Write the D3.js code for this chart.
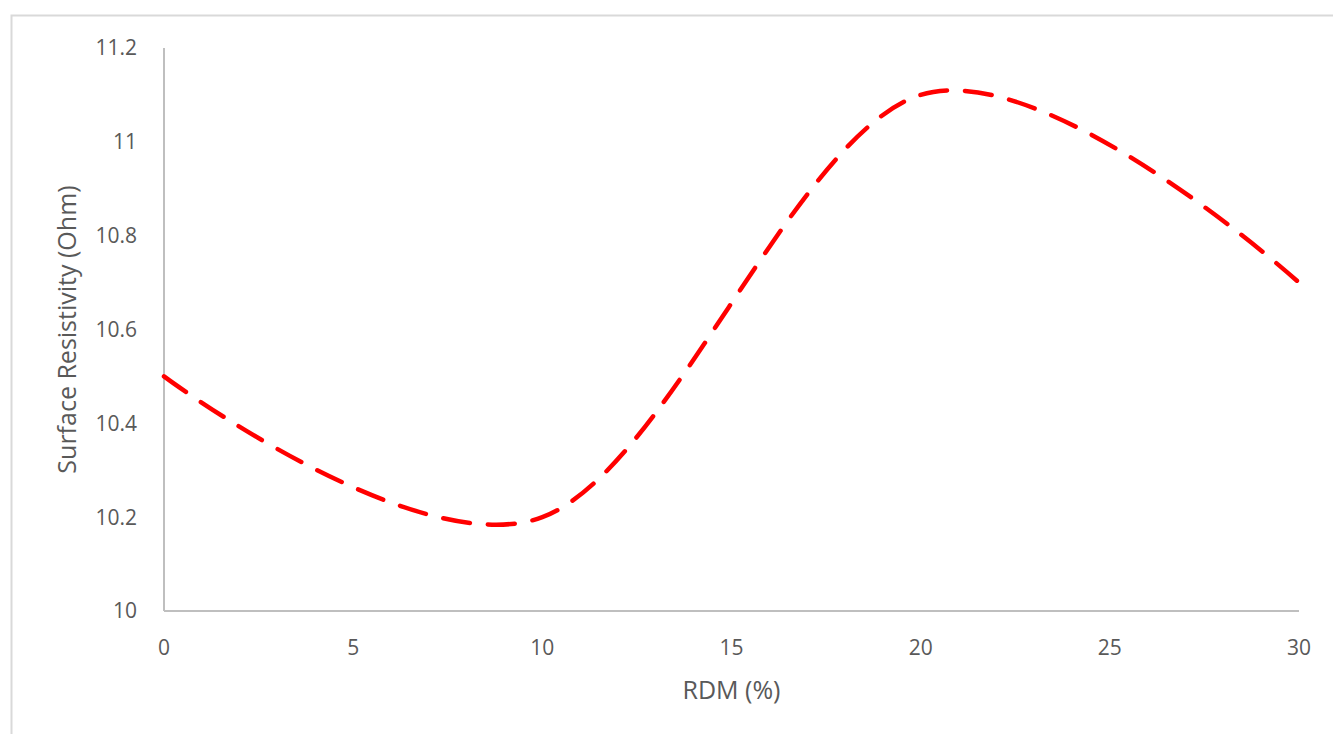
<!DOCTYPE html>
<html><head><meta charset="utf-8">
<script src="https://cdn.jsdelivr.net/npm/d3@7"></script>
<style>body{margin:0;background:#fff;font-family:"Open Sans","Liberation Sans",sans-serif;}</style>
</head><body>
<svg id="c" width="1333" height="734"></svg>
<script>
const rdm = [0, 10, 20, 30];
const resistivity = [10.5, 10.2, 11.1, 10.7];
const xTicks = [0, 5, 10, 15, 20, 25, 30];
const yTicks = [10, 10.2, 10.4, 10.6, 10.8, 11, 11.2];

const svg = d3.select("#c");
svg.append("rect").attr("x", 11.5).attr("y", 15.5).attr("width", 1340).attr("height", 740)
  .attr("fill", "none").attr("stroke", "#d9d9d9").attr("stroke-width", 2);

const x = d3.scaleLinear().domain([0, 30]).range([164, 1299]);
const y = d3.scaleLinear().domain([10, 11.2]).range([611, 48]);

const fmt = d => String(+d.toFixed(1));
const g = svg.append("g");
g.append("line").attr("x1", x(0)).attr("x2", x(0)).attr("y1", y(11.2)).attr("y2", y(10))
  .attr("stroke", "#bfbfbf").attr("stroke-width", 2);
g.append("line").attr("x1", x(0)).attr("x2", x(30)).attr("y1", y(10)).attr("y2", y(10))
  .attr("stroke", "#bfbfbf").attr("stroke-width", 2);

g.selectAll(".yt").data(yTicks).join("text").attr("class", "yt")
  .attr("x", 137).attr("y", d => y(d)).attr("dy", "0.35em").attr("text-anchor", "end")
  .attr("font-size", 21).attr("fill", "#595959").text(fmt);
g.selectAll(".xt").data(xTicks).join("text").attr("class", "xt")
  .attr("x", d => x(d)).attr("y", 655).attr("text-anchor", "middle")
  .attr("font-size", 21).attr("fill", "#595959").text(fmt);

svg.append("text").attr("x", x(15)).attr("y", 699).attr("text-anchor", "middle")
  .attr("font-size", 25).attr("fill", "#595959").text("RDM (%)");
svg.append("text").attr("transform", `translate(76,${y(10.6)}) rotate(-90)`)
  .attr("text-anchor", "middle").attr("font-size", 25).attr("fill", "#595959")
  .text("Surface Resistivity (Ohm)");

const line = d3.line().x((d, i) => x(rdm[i])).y(d => y(d)).curve(d3.curveCardinal.tension(0));
svg.append("path").attr("d", line(resistivity)).attr("fill", "none")
  .attr("stroke", "#ff0000").attr("stroke-width", 4.5).attr("stroke-linecap", "round")
  .attr("stroke-dasharray", "27,18");
</script>
</body></html>
